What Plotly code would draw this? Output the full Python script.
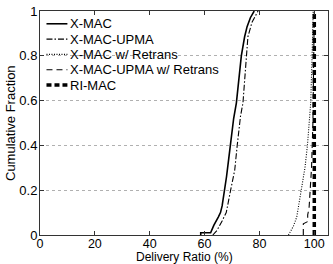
import plotly.graph_objects as go

# ---- data (delivery ratio %, cumulative fraction) ----
xmac_x = [58.6, 58.6, 62.2, 63.4, 65.0, 65.8, 66.4, 67.4, 68.0, 68.8, 69.4, 70.0, 70.6, 71.6, 72.7, 73.4, 74.6, 75.5, 76.7, 78.1]
xmac_y = [0.0, 0.01, 0.01, 0.044, 0.08, 0.10, 0.13, 0.20, 0.26, 0.34, 0.40, 0.47, 0.52, 0.59, 0.74, 0.80, 0.885, 0.93, 0.97, 1.0]

upma_x = [63.0, 64.5, 66.4, 67.9, 69.5, 71.0, 71.9, 73.1, 74.0, 74.6, 75.2, 75.8, 77.3, 79.5]
upma_y = [0.0, 0.02, 0.063, 0.10, 0.20, 0.29, 0.40, 0.53, 0.59, 0.70, 0.80, 0.885, 0.95, 1.0]

xmac_rt_x = [90.6, 92.4, 93.6, 94.6, 95.4, 96.6, 97.5, 98.4, 98.7, 99.2, 99.6]
xmac_rt_y = [0.0, 0.04, 0.08, 0.15, 0.20, 0.30, 0.40, 0.53, 0.59, 0.80, 1.0]

upma_rt_x = [96.0, 96.0, 97.6, 97.6, 98.1, 98.6, 99.0, 99.5, 99.8, 100.0]
upma_rt_y = [0.0, 0.05, 0.06, 0.09, 0.12, 0.20, 0.30, 0.50, 0.70, 1.0]

rimac_x = [100.0, 100.0]
rimac_y = [0.0, 1.0]

series_names = ["X-MAC", "X-MAC-UPMA", "X-MAC w/ Retrans", "X-MAC-UPMA w/ Retrans", "RI-MAC"]
x_ticks = [0, 20, 40, 60, 80, 100]
y_ticks = [0, 0.2, 0.4, 0.6, 0.8, 1.0]
y_tick_labels = ["0", "0.2", "0.4", "0.6", "0.8", "1"]
x_title = "Delivery Ratio (%)"
y_title = "Cumulative Fraction"

styles = [
    dict(width=1.6, dash="solid"),
    dict(width=1.1, dash="6px,2px,1.5px,2px"),
    dict(width=1.1, dash="1px,1.5px"),
    dict(width=1.1, dash="6px,4px"),
    dict(width=3.5, dash="5px,3px"),
]

FONT = "Liberation Sans, Arial, Helvetica, sans-serif"
fig = go.Figure()
data = [(xmac_x, xmac_y), (upma_x, upma_y), (xmac_rt_x, xmac_rt_y), (upma_rt_x, upma_rt_y), (rimac_x, rimac_y)]
for (xs, ys), name, st in zip(data, series_names, styles):
    fig.add_trace(go.Scatter(x=xs, y=ys, mode="lines", name=name, showlegend=False,
                             line=dict(color="black", width=st["width"], dash=st["dash"])))

# plot area pixel geometry
L, R, T, B = 40, 4, 7, 29
W, H = 333, 264
pw, ph = W - L - R, H - T - B

def px2paper(px, py):
    return (px - L) / pw, (H - B - py) / ph

# white legend box (covers gridlines, under traces)
x0, y0 = px2paper(41, 90)
x1, y1 = px2paper(180, 9)
fig.add_shape(type="rect", xref="paper", yref="paper", x0=x0, x1=x1, y0=y0, y1=y1,
              fillcolor="white", line=dict(width=0), layer="between")

rows = [20, 35.6, 51.2, 66.8, 82.4]
for name, st, ry in zip(series_names, styles, rows):
    ax0, ay = px2paper(46.5, ry)
    ax1, _ = px2paper(67.5, ry)
    fig.add_shape(type="line", xref="paper", yref="paper", x0=ax0, x1=ax1, y0=ay, y1=ay,
                  line=dict(color="black", width=st["width"], dash=st["dash"]), layer="above")
    tx, _ = px2paper(68.5, ry)
    fig.add_annotation(x=tx, y=ay, xref="paper", yref="paper", text=name, showarrow=False,
                       xanchor="left", yanchor="middle", font=dict(family=FONT, size=13, color="black"))

# axis titles
fig.add_annotation(x=0.5, y=0, xref="paper", yref="paper", text=x_title, showarrow=False,
                   xanchor="center", yanchor="bottom", yshift=-29.5, borderpad=0,
                   font=dict(family=FONT, size=12, color="black"))
fig.add_annotation(x=0, y=0.5, xref="paper", yref="paper", text=y_title, showarrow=False,
                   xanchor="center", yanchor="middle", xshift=-30, textangle=-90,
                   font=dict(family=FONT, size=13, color="black"))

fig.update_layout(
    width=W, height=H,
    margin=dict(l=L, r=R, t=T, b=B),
    plot_bgcolor="white", paper_bgcolor="white",
    font=dict(family=FONT, size=13, color="black"),
    showlegend=False,
)
fig.update_xaxes(range=[0, 105], tickvals=x_ticks, ticks="inside", ticklen=4, tickcolor="#333",
                 showline=True, linecolor="#333", linewidth=1, mirror="ticks", showgrid=False,
                 zeroline=False, tickfont=dict(size=12.5), ticklabelstandoff=-3,
                 ticklabeloverflow="allow")
fig.update_yaxes(range=[0, 1], tickvals=y_ticks, ticktext=y_tick_labels, ticks="inside", ticklen=4,
                 tickcolor="#333", showline=True, linecolor="#333", linewidth=1, mirror="ticks",
                 showgrid=True, gridcolor="#b0b0b0", griddash="dot", gridwidth=1, zeroline=False,
                 tickfont=dict(size=13), ticklabelstandoff=-1, ticklabeloverflow="allow")

fig.write_html("out.html")
